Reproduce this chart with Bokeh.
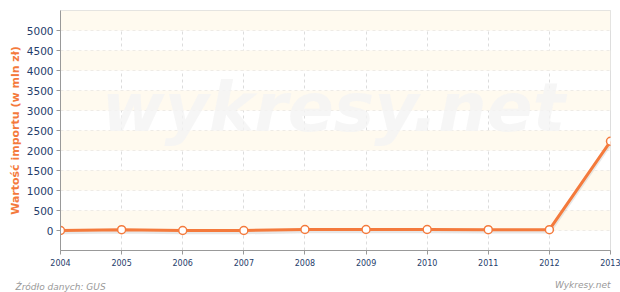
from bokeh.plotting import figure
from bokeh.models import ColumnDataSource, Range1d, FixedTicker, BoxAnnotation, Label
from bokeh.embed import file_html
from bokeh.resources import INLINE

years = [2004, 2005, 2006, 2007, 2008, 2009, 2010, 2011, 2012, 2013]
values = [0, 20, 0, 0, 25, 25, 25, 20, 20, 2230]
y_ticks = [0, 500, 1000, 1500, 2000, 2500, 3000, 3500, 4000, 4500, 5000]
band_starts = [0, 1000, 2000, 3000, 4000, 5000]

src = ColumnDataSource(dict(x=years, y=values, ys=[v - 45 for v in values]))

p = figure(width=620, height=292, output_backend="svg", toolbar_location=None,
           x_range=Range1d(2004, 2013), y_range=Range1d(-500, 5500),
           min_border_left=60, min_border_right=10, min_border_top=10, min_border_bottom=42)
p.background_fill_color = "white"
p.border_fill_color = "white"
p.outline_line_color = "#dddddd"

for b in band_starts:
    p.add_layout(BoxAnnotation(bottom=b, top=b + 500, fill_color="#fffaef", fill_alpha=1, line_alpha=0, level="underlay"))

p.xgrid.ticker = FixedTicker(ticks=years)
p.ygrid.ticker = FixedTicker(ticks=y_ticks)
for g in (p.xgrid, p.ygrid):
    g.grid_line_color = "#dcdcdc"
    g.grid_line_dash = "3 3"
    g.grid_line_width = 1

p.add_layout(Label(x=273, y=143, x_units="screen", y_units="screen", text="wykresy.net",
                   text_font="DejaVu Sans", text_font_style="bold italic", text_font_size="68px",
                   text_color="#f4f4f4", text_alpha=0.8, text_align="center", text_baseline="middle", level="underlay"))

p.xaxis.ticker = FixedTicker(ticks=years)
p.yaxis.ticker = FixedTicker(ticks=y_ticks)
for ax in (p.xaxis[0], p.yaxis[0]):
    ax.axis_line_color = "#999999"
    ax.major_tick_line_color = "#999999"
    ax.major_tick_out = 4
    ax.major_tick_in = 0
    ax.minor_tick_line_color = None
    ax.major_label_text_color = "#1f3d6b"
    ax.major_label_text_font = "DejaVu Sans"
p.xaxis.major_label_text_font_size = "8px"
p.yaxis.major_label_text_font_size = "10.5px"
p.yaxis.major_label_standoff = 3
p.xaxis.major_label_standoff = 4
p.yaxis.axis_label = "Wartość importu (w mln zł)"
p.yaxis.axis_label_text_color = "#f47a3c"
p.yaxis.axis_label_text_font = "DejaVu Sans"
p.yaxis.axis_label_text_font_style = "bold"
p.yaxis.axis_label_text_font_size = "11px"
p.yaxis.axis_label_standoff = 2

p.line("x", "ys", source=src, line_color="#bbbbbb", line_alpha=0.35, line_width=4)
p.line("x", "y", source=src, line_color="#f47a3c", line_width=3)
p.scatter("x", "y", source=src, size=8, fill_color="white", line_color="#f47a3c", line_width=1.5)

p.add_layout(Label(x=-45, y=-13, x_units="screen", y_units="screen", text="Źródło danych: GUS",
                   text_font="DejaVu Sans", text_font_style="italic", text_font_size="9px",
                   text_color="#999999"), "below")
p.add_layout(Label(x=550, y=-1, x_units="screen", y_units="screen", text="Wykresy.net",
                   text_font="DejaVu Sans", text_font_style="italic", text_font_size="9px",
                   text_color="#999999", text_align="right"), "below")

open("out.html", "w").write(file_html(p, INLINE))
